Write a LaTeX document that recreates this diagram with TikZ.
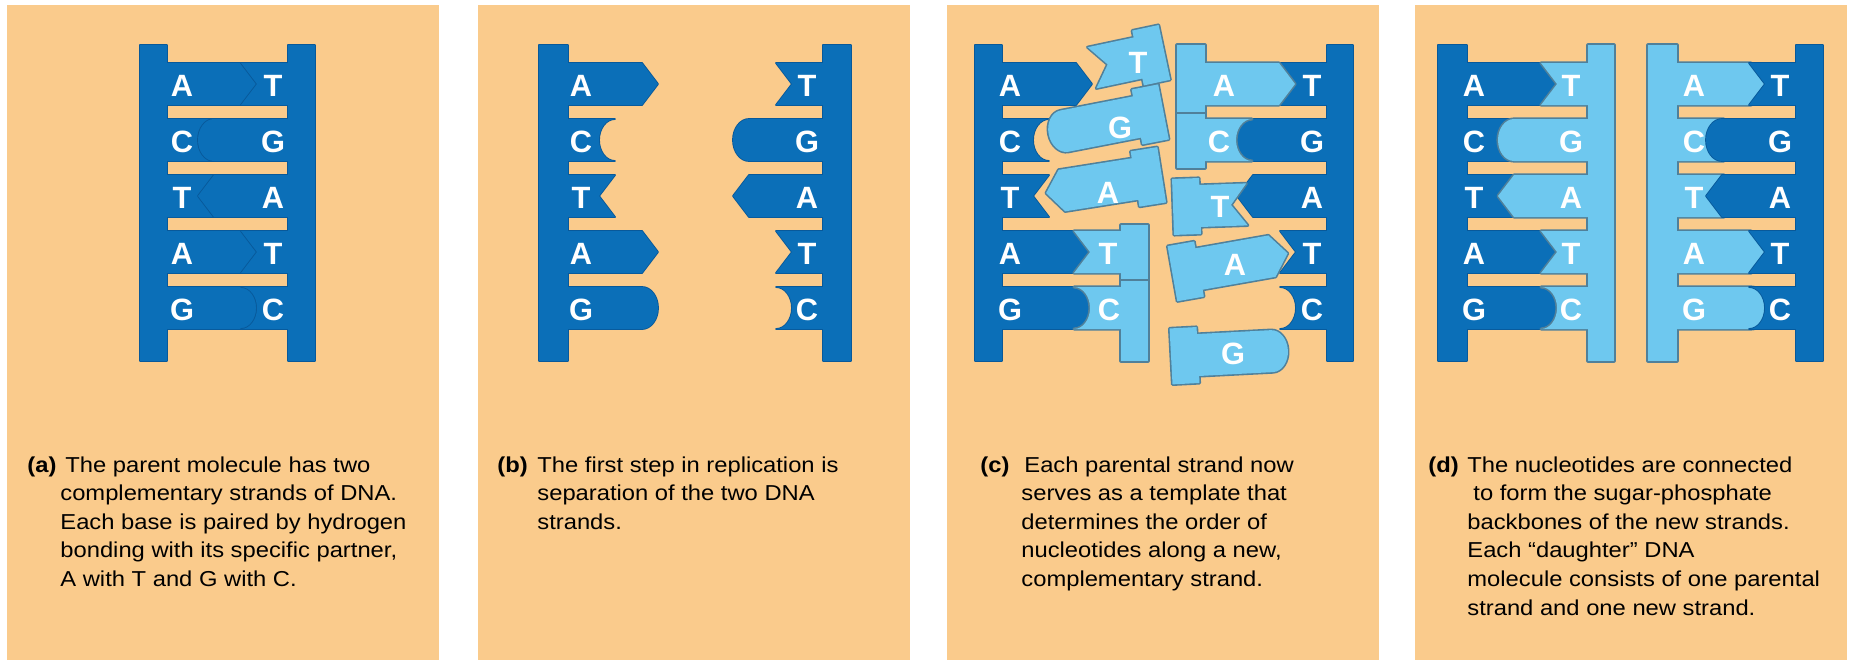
\documentclass[tikz,border=0pt]{standalone}
\usepackage{fontspec}
\setmainfont{Liberation Sans}
\newfontfamily\capfont[FakeStretch=1.1]{Liberation Sans}
\definecolor{panel}{HTML}{FACB8C}
\definecolor{dna}{HTML}{0B6FB8}
\definecolor{dnaedge}{HTML}{08599A}
\definecolor{newdna}{HTML}{6EC8EF}
\definecolor{newedge}{HTML}{50809A}

\tikzset{
  % bases: they start at the backbone edge (x=0) and point towards +x
  pics/bA/.style={code={\path[part] (0,-21) -- (74,-21) -- (90,0) -- (74,21) -- (0,21) -- cycle;}},
  pics/bG/.style={code={\path[part] (0,-21) -- (74,-21) arc[start angle=-90,end angle=90,x radius=16,y radius=21] -- (0,21) -- cycle;}},
  pics/bT/.style={code={\path[part] (0,-21) -- (47,-21) -- (31,0) -- (47,21) -- (0,21) -- cycle;}},
  pics/bC/.style={code={\path[part] (0,-21) -- (47,-21) arc[start angle=-90,end angle=-270,x radius=16,y radius=21] -- (0,21) -- cycle;}},
  % free nucleotides: base plus its own sugar-phosphate segment
  pics/nA/.style={code={\path[part] (-27,-28) -- (0,-28) -- (0,-21) -- (74,-21) -- (90,0) -- (74,21) -- (0,21) -- (0,28) -- (-27,28) -- cycle;}},
  pics/nG/.style={code={\path[part] (-27,-28) -- (0,-28) -- (0,-21) -- (74,-21) arc[start angle=-90,end angle=90,x radius=16,y radius=21] -- (0,21) -- (0,28) -- (-27,28) -- cycle;}},
  pics/nT/.style={code={\path[part] (-27,-28) -- (0,-28) -- (0,-21) -- (47,-21) -- (31,0) -- (47,21) -- (0,21) -- (0,28) -- (-27,28) -- cycle;}},
  letter/.style={text=white,font=\bfseries\fontsize{15.4}{16}\selectfont,inner sep=0pt},
  captxt/.style={anchor=base west,inner sep=0pt,font=\capfont\fontsize{10.8}{13}\selectfont},
  caplabel/.style={anchor=base west,inner sep=0pt,font=\capfont\bfseries\fontsize{10.8}{13}\selectfont},
  split/.style={draw=newedge,line width=0.8pt},
}

% draw the outline of a group first, then fill it, so only its outer edge stays visible
\newcommand\layered[3]{%
  \begin{scope}\tikzset{part/.style={#2,line join=round}}#3\end{scope}%
  \begin{scope}\tikzset{part/.style={fill=#1}}#3\end{scope}}

% a column of bases on rows 1..5; #1 backbone edge, #2 direction, #3 bases
\newcommand\strand[3]{%
  \foreach \b [count=\i] in {#3} \pic[xscale=#2] at (#1,{84+56*(\i-1)}) {b\b};}

\begin{document}
\begin{tikzpicture}[x=0.5pt,y=-0.5pt]
\useasboundingbox (0,0) rectangle (1850,660);
\fill[white] (0,0) rectangle (1850,660);
\foreach \x in {7,478,947,1415} \fill[panel] (\x,5) rectangle ++(432,655);

\tikzset{darkgrp/.style={draw=dnaedge,line width=0.9pt}, lightgrp/.style={draw=newedge,line width=1.6pt}}

% ---------- (a) parent molecule ----------
\layered{dna}{darkgrp}{\path[part] (140,45) rectangle (167,361); \strand{167}{1}{A,C,T,A,G}}
\layered{dna}{darkgrp}{\path[part] (288,45) rectangle (315,361); \strand{288}{-1}{T,G,A,T,C}}

% ---------- (b) separated strands ----------
\layered{dna}{darkgrp}{\path[part] (539,45) rectangle (568,361); \strand{568}{1}{A,C,T,A,G}}
\layered{dna}{darkgrp}{\path[part] (823,45) rectangle (851,361); \strand{823}{-1}{T,G,A,T,C}}

% ---------- (c) templates with incoming nucleotides ----------
\layered{dna}{darkgrp}{\path[part] (975,45) rectangle (1002,361); \strand{1002}{1}{A,C,T,A,G}}
\layered{dna}{darkgrp}{\path[part] (1327,45) rectangle (1353,361); \strand{1327}{-1}{T,G,A,T,C}}
\layered{newdna}{lightgrp}{%
  \path[part] (1121,225) rectangle (1148,361);
  \pic[xscale=-1] at (1121,252) {bT};
  \pic[xscale=-1] at (1121,308) {bC};}
\draw[split] (1121,280) -- (1148,280);
\layered{newdna}{lightgrp}{%
  \path[part] (1177,45) rectangle (1205,168);
  \pic at (1205,84) {bA};
  \pic at (1205,140) {bC};}
\draw[split] (1177,113) -- (1205,113);
\layered{newdna}{lightgrp}{%
  \pic[rotate=12,xscale=-1] at (1138,58) {nT};
  \pic[rotate=11,xscale=-1] at (1137,117) {nG};
  \pic[rotate=9,xscale=-1] at (1135,179) {nA};
  \pic[rotate=2] at (1200,206) {nT};
  \pic[rotate=10] at (1199,269) {nA};
  \pic[rotate=3] at (1198,355) {nG};}

% ---------- (d) two daughter molecules ----------
\layered{dna}{darkgrp}{\path[part] (1438,45) rectangle (1467,361); \strand{1467}{1}{A,C,T,A,G}}
\layered{newdna}{lightgrp}{\path[part] (1588,45) rectangle (1614,361); \strand{1588}{-1}{T,G,A,T,C}}
\layered{newdna}{lightgrp}{\path[part] (1648,45) rectangle (1677,361); \strand{1677}{1}{A,C,T,A,G}}
\layered{dna}{darkgrp}{\path[part] (1796,45) rectangle (1823,361); \strand{1796}{-1}{T,G,A,T,C}}

% ---------- base letters ----------
\foreach \b [count=\i] in {A,C,T,A,G} {
  \node[letter] (aL\i) at (182,{86+56*(\i-1)}) {\b};
  \node[letter] (bL\i) at (581,{86+56*(\i-1)}) {\b};
  \node[letter] (cL\i) at (1010,{86+56*(\i-1)}) {\b};
  \node[letter] (dL\i) at (1474,{86+56*(\i-1)}) {\b};
  \node[letter] (dM\i) at (1694,{86+56*(\i-1)}) {\b};
}
\foreach \b [count=\i] in {T,G,A,T,C} {
  \node[letter] (aR\i) at (273,{86+56*(\i-1)}) {\b};
  \node[letter] (bR\i) at (807,{86+56*(\i-1)}) {\b};
  \node[letter] (cR\i) at (1312,{86+56*(\i-1)}) {\b};
  \node[letter] (dN\i) at (1571,{86+56*(\i-1)}) {\b};
  \node[letter] (dR\i) at (1780,{86+56*(\i-1)}) {\b};
}
\node[letter] (cn4) at (1108,254) {T};
\node[letter] (cn5) at (1109,310) {C};
\node[letter] (cm1) at (1224,86) {A};
\node[letter] (cm2) at (1219,142) {C};
\node[letter] (cf1) at (1138,63) {T};
\node[letter] (cf2) at (1120,128) {G};
\node[letter] (cf3) at (1108,193) {A};
\node[letter] (cf4) at (1220,207) {T};
\node[letter] (cf5) at (1235,265) {A};
\node[letter] (cf6) at (1233,354) {G};

% ---------- captions ----------
\node[caplabel] (capa) at (27,472) {(a)};
\node[captxt] (capa1) at (65,472) {The parent molecule has two};
\foreach \t [count=\i from 2] in {complementary strands of DNA.,Each base is paired by hydrogen,{bonding with its specific partner,},A with T and G with C.}
  \node[captxt] (capa\i) at (60,{472+28.6*(\i-1)}) {\t};

\node[caplabel] (capb) at (497,472) {(b)};
\node[captxt] (capb1) at (537,472) {The first step in replication is};
\foreach \t [count=\i from 2] in {separation of the two DNA,strands.}
  \node[captxt] (capb\i) at (537,{472+28.6*(\i-1)}) {\t};

\node[caplabel] (capc) at (980,472) {(c)};
\node[captxt] (capc1) at (1024,472) {Each parental strand now};
\foreach \t [count=\i from 2] in {serves as a template that,determines the order of,{nucleotides along a new,},complementary strand.}
  \node[captxt] (capc\i) at (1021,{472+28.6*(\i-1)}) {\t};

\node[caplabel] (capd) at (1428,472) {(d)};
\node[captxt] (capd1) at (1467,472) {The nucleotides are connected};
\node[captxt] (capd2) at (1473,500.6) {to form the sugar-phosphate};
\foreach \t [count=\i from 3] in {backbones of the new strands.,Each “daughter” DNA,molecule consists of one parental,strand and one new strand.}
  \node[captxt] (capd\i) at (1467,{472+28.6*(\i-1)}) {\t};
\end{tikzpicture}
\end{document}
